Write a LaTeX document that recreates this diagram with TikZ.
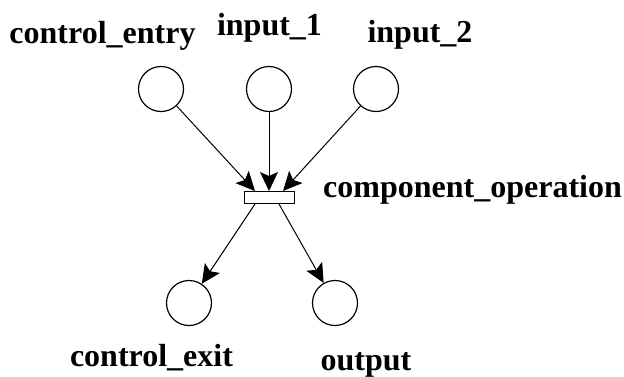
\documentclass[tikz,border=0pt]{standalone}
\usepackage{fontspec}
\setmainfont{Liberation Serif}
\usetikzlibrary{arrows.meta}
\begin{document}
\begin{tikzpicture}[x=1pt,y=-1pt,
  place/.style={draw,circle,line width=1.2pt,minimum size=45pt,inner sep=0pt},
  trans/.style={draw,rectangle,line width=1.2pt,minimum width=50pt,minimum height=12pt,inner sep=0pt},
  lbl/.style={font=\fontsize{32}{37}\selectfont\bfseries,inner sep=0pt,anchor=base},
  arr/.style={line width=1pt,-{Stealth[length=19pt,width=18pt,inset=4pt]}}]
\useasboundingbox (0,0) rectangle (624,376);
\node[place] (ce) at (161,89) {};
\node[place] (i1) at (269,89) {};
\node[place] (i2) at (376,89) {};
\node[trans] (t) at (269.5,197.5) {};
\node[place] (cx) at (189,303) {};
\node[place] (out) at (335,303) {};
\coordinate (tin1) at (255,191);
\coordinate (tin2) at (269,191);
\coordinate (tin3) at (283,191);
\coordinate (tout1) at (255,204);
\coordinate (tout2) at (279,204);
\node[lbl] (lce) at (102.5,43) {control\_entry};
\node[lbl] (li1) at (269.5,35) {input\_1};
\node[lbl] (li2) at (420,42) {input\_2};
\node[lbl,anchor=base west] (lt) at (323,197) {component\_operation};
\node[lbl] (lcx) at (151.5,366) {control\_exit};
\node[lbl] (lout) at (366,370) {output};
\draw[arr] (ce) -- (tin1);
\draw[arr] (i1) -- (tin2);
\draw[arr] (i2) -- (tin3);
\draw[arr] (tout1) -- (cx);
\draw[arr] (tout2) -- (out);
\end{tikzpicture}
\end{document}
